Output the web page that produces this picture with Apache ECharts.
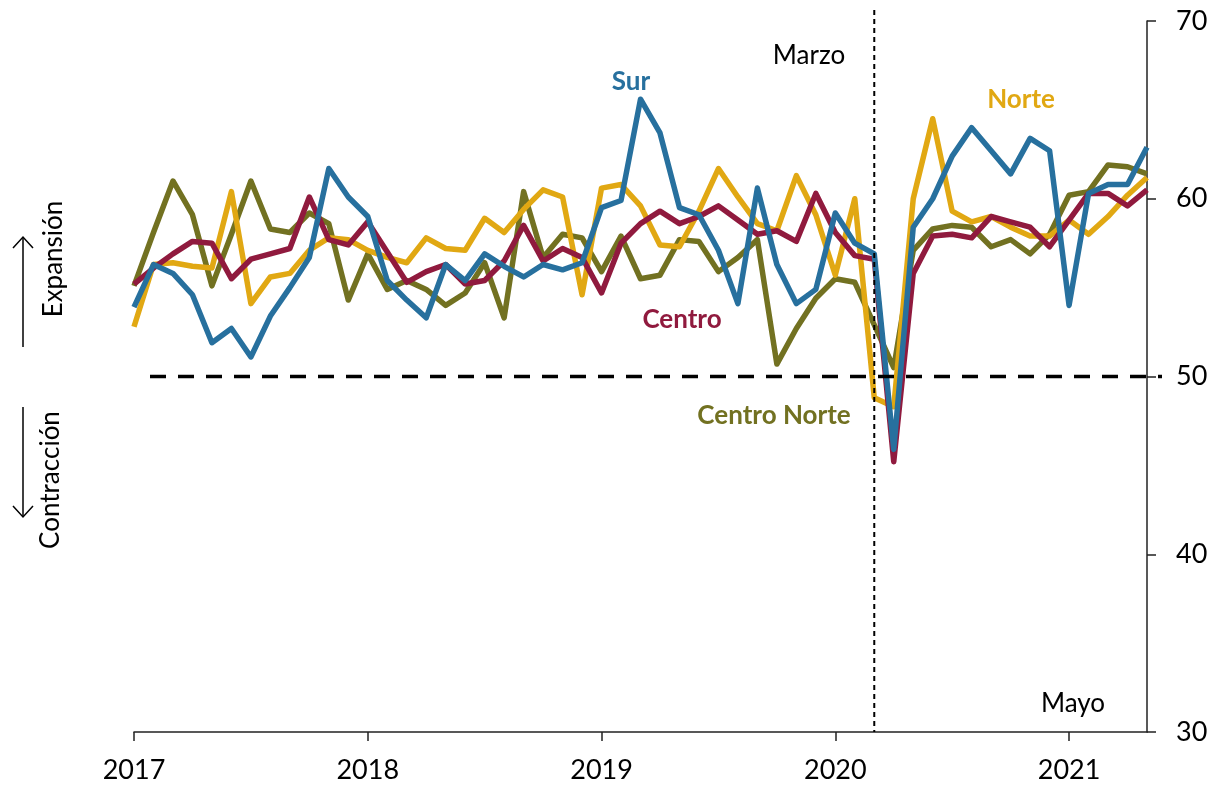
<!DOCTYPE html>
<html>
<head>
<meta charset="utf-8">
<script src="https://cdn.jsdelivr.net/npm/echarts@6/dist/echarts.min.js"></script>
<style>
  html, body { margin: 0; padding: 0; background: #fff; }
  #chart { width: 1211px; height: 786px; }
</style>
</head>
<body>
<div id="chart"></div>
<script>
    // meses ene-2017 .. may-2021
    var anios = [2017, 2018, 2019, 2020, 2021];
    var meses = [];
    anios.forEach(function (a) {
        for (var m = 1; m <= 12; m++) {
            if (a === 2021 && m > 5) break;
            meses.push(a + '-' + (m < 10 ? '0' : '') + m);
        }
    });

    var norte = [52.8, 56.3, 56.4, 56.2, 56.1, 60.4, 54.1, 55.6, 55.8, 57.1, 57.8, 57.7,
                 57.1, 56.7, 56.4, 57.8, 57.2, 57.1, 58.9, 58.1, 59.4, 60.5, 60.1, 54.6,
                 60.6, 60.8, 59.6, 57.4, 57.3, 59.3, 61.7, 60.1, 58.6, 58.2, 61.3, 59.1,
                 55.7, 60.0, 48.8, 48.3, 60.0, 64.5, 59.3, 58.7, 59.0, 58.4, 57.9, 57.9,
                 58.8, 58.0, 59.0, 60.2, 61.2];
    var centro = [55.2, 56.1, 56.9, 57.6, 57.5, 55.5, 56.6, 56.9, 57.2, 60.1, 57.7, 57.4,
                  58.7, 57.0, 55.3, 55.9, 56.3, 55.2, 55.4, 56.5, 58.5, 56.5, 57.2, 56.7,
                  54.7, 57.5, 58.6, 59.3, 58.6, 59.0, 59.6, 58.8, 58.0, 58.2, 57.6, 60.3,
                  58.1, 56.8, 56.6, 45.2, 55.8, 57.9, 58.0, 57.8, 59.0, 58.7, 58.4, 57.3,
                  58.8, 60.3, 60.3, 59.6, 60.5];
    var sur = [53.9, 56.3, 55.8, 54.6, 51.9, 52.7, 51.1, 53.4, 55.0, 56.7, 61.7, 60.1,
               59.0, 55.4, 54.3, 53.3, 56.3, 55.4, 56.9, 56.2, 55.6, 56.3, 56.0, 56.4,
               59.5, 59.9, 65.6, 63.7, 59.5, 59.1, 57.1, 54.1, 60.6, 56.3, 54.1, 54.9,
               59.2, 57.5, 56.9, 45.9, 58.4, 60.0, 62.4, 64.0, 62.7, 61.4, 63.4, 62.7,
               54.0, 60.3, 60.8, 60.8, 62.9];
    var centroNorte = [55.1, 58.1, 61.0, 59.1, 55.1, 58.0, 61.0, 58.3, 58.1, 59.2, 58.6, 54.3,
                       56.9, 54.9, 55.4, 54.9, 54.0, 54.7, 56.4, 53.3, 60.4, 56.7, 58.0, 57.8,
                       55.9, 57.9, 55.5, 55.7, 57.7, 57.6, 55.9, 56.7, 57.7, 50.7, 52.7, 54.4,
                       55.5, 55.3, 52.9, 50.5, 57.1, 58.3, 58.5, 58.4, 57.3, 57.7, 56.9, 58.0,
                       60.2, 60.4, 61.9, 61.8, 61.4];

    var umbral = 50;
    var mesMarzo = '2020-03';

    var fuente = 'Lato, "Noto Sans", sans-serif';
    var colores = {norte: '#E1A813', centro: '#901A3E', sur: '#27709E', centroNorte: '#727121'};

    var dom = document.getElementById('chart');
    var myChart = echarts.init(dom, null, {renderer: 'canvas'});

    function serie(nombre, datos, color) {
        return {
            name: nombre,
            type: 'line',
            data: datos,
            symbol: 'none',
            smooth: false,
            lineStyle: {width: 5.5, color: color, join: 'round'},
            itemStyle: {color: color},
            animation: false
        };
    }

    var option = {
        animation: false,
        grid: {left: 134, right: 64, top: 21, bottom: 54, containLabel: false},
        xAxis: {
            type: 'category',
            data: meses,
            boundaryGap: false,
            axisLine: {lineStyle: {color: '#222', width: 1.5}},
            axisTick: {
                length: 9,
                lineStyle: {color: '#222', width: 1.5},
                interval: function (i) { return i % 12 === 0; }
            },
            axisLabel: {
                interval: function (i) { return i % 12 === 0; },
                formatter: function (v) { return v.slice(0, 4); },
                color: '#000',
                fontFamily: fuente,
                fontSize: 27,
                margin: 25
            },
            splitLine: {show: false}
        },
        yAxis: {
            type: 'value',
            position: 'right',
            min: 30,
            max: 70,
            interval: 10,
            axisLine: {show: true, lineStyle: {color: '#222', width: 1.5}},
            axisTick: {show: true, length: 9, lineStyle: {color: '#222', width: 1.5}},
            axisLabel: {color: '#000', fontFamily: fuente, fontSize: 27, margin: 29},
            splitLine: {show: false}
        },
        series: [
            serie('Centro Norte', centroNorte, colores.centroNorte),
            serie('Norte', norte, colores.norte),
            serie('Centro', centro, colores.centro),
            serie('Sur', sur, colores.sur)
        ]
    };
    myChart.setOption(option);

    // líneas de referencia y anotaciones
    var y50 = myChart.convertToPixel({yAxisIndex: 0}, umbral);
    var xMarzo = myChart.convertToPixel({xAxisIndex: 0}, mesMarzo);
    var yBase = myChart.convertToPixel({yAxisIndex: 0}, 30);

    function etiqueta(texto, x, y, color, negrita) {
        return {
            type: 'text', x: x, y: y, z: 100,
            style: {
                text: texto, fill: color, font: (negrita ? 'bold ' : '') + '26px ' + fuente,
                textAlign: 'center', textVerticalAlign: 'middle'
            }
        };
    }

    myChart.setOption({
        graphic: [
            {
                type: 'line', z: 50,
                shape: {x1: 150, y1: y50, x2: 1162, y2: y50},
                style: {stroke: '#000', lineWidth: 3.5, lineDash: [16, 12]}
            },
            {
                type: 'line', z: 50,
                shape: {x1: xMarzo, y1: 10, x2: xMarzo, y2: yBase},
                style: {stroke: '#000', lineWidth: 2, lineDash: [5, 4]}
            },
            etiqueta('Sur', 631, 82, colores.sur, true),
            etiqueta('Norte', 1021, 100, colores.norte, true),
            etiqueta('Centro', 682, 320, colores.centro, true),
            etiqueta('Centro Norte', 774, 416, colores.centroNorte, true),
            etiqueta('Marzo', 809, 56, '#000', false),
            etiqueta('Mayo', 1073, 704, '#000', false),
            {
                type: 'text', x: 54, y: 259, rotation: Math.PI / 2,
                style: {text: 'Expansión', fill: '#000', font: '26px ' + fuente,
                        textAlign: 'center', textVerticalAlign: 'middle'}
            },
            {
                type: 'text', x: 51, y: 480, rotation: Math.PI / 2,
                style: {text: 'Contracción', fill: '#000', font: '26px ' + fuente,
                        textAlign: 'center', textVerticalAlign: 'middle'}
            },
            {
                type: 'line', shape: {x1: 23, y1: 347, x2: 23, y2: 237},
                style: {stroke: '#000', lineWidth: 1.5}
            },
            {
                type: 'polyline', shape: {points: [[13, 248], [23, 237], [33, 248]]},
                style: {stroke: '#000', lineWidth: 1.5, fill: null}
            },
            {
                type: 'line', shape: {x1: 23, y1: 407, x2: 23, y2: 517},
                style: {stroke: '#000', lineWidth: 1.5}
            },
            {
                type: 'polyline', shape: {points: [[13, 506], [23, 517], [33, 506]]},
                style: {stroke: '#000', lineWidth: 1.5, fill: null}
            }
        ]
    });
</script>
</body>
</html>
